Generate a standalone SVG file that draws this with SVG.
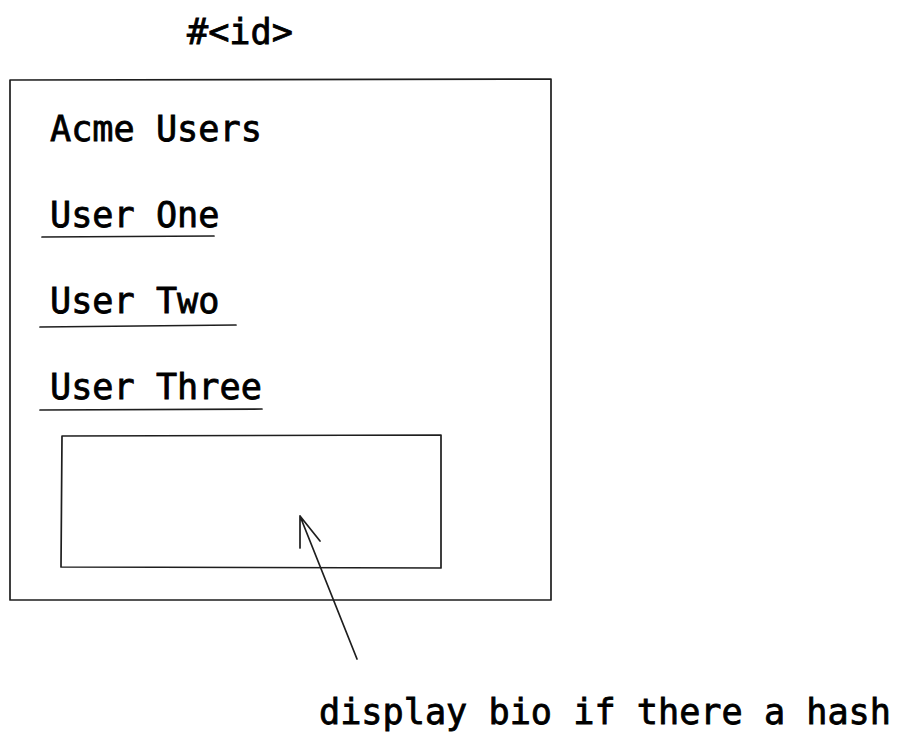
<svg xmlns="http://www.w3.org/2000/svg" width="902" height="742" viewBox="0 0 902 742">
  <style>
    .t { font-family: "DejaVu Sans Mono", "Liberation Mono", monospace; font-size: 35.2px; fill: #000; stroke: #000; stroke-width: 0.8; }
    .s { fill: none; stroke: #1e1e1e; stroke-width: 1.7; stroke-linecap: round; stroke-linejoin: round; }
  </style>
  <rect width="902" height="742" fill="#fff"/>
  <g id="title"><text class="t" x="187" y="44">#&lt;id&gt;</text></g>
  <g id="container">
    <path class="s" d="M10 80 L551 79 L551 600 L10 600 Z"/>
  </g>
  <g id="heading"><text class="t" x="50" y="141">Acme Users</text></g>
  <g id="user-one">
    <text class="t" x="50" y="227">User One</text>
    <path class="s" d="M42 237 L214 236"/>
  </g>
  <g id="user-two">
    <text class="t" x="50" y="313">User Two</text>
    <path class="s" d="M40 327 L236 325"/>
  </g>
  <g id="user-three">
    <text class="t" x="50" y="399">User Three</text>
    <path class="s" d="M40 410 L262 409"/>
  </g>
  <g id="bio-box">
    <path class="s" d="M62 436 L441 435 L441 568 L61 567 Z"/>
  </g>
  <g id="connectors">
    <path class="s" d="M357 659 L300 516 M300 516 L300 548 M300 516 L320 541"/>
  </g>
  <g id="note"><text class="t" x="319" y="724">display bio if there a hash</text></g>
</svg>
